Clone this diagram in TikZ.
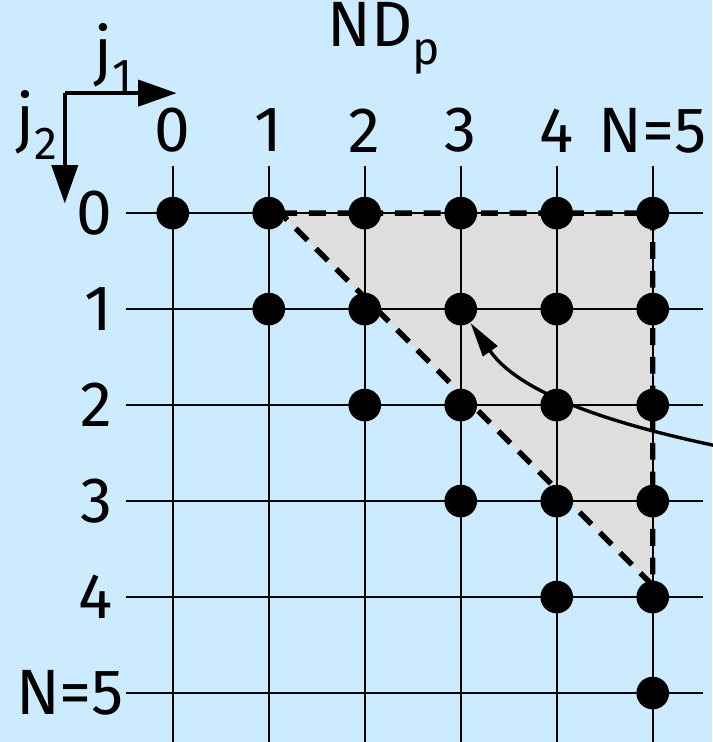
\documentclass[tikz,border=0pt]{standalone}
\usepackage{fontspec}
\setmainfont{Fira Sans}
\usetikzlibrary{arrows.meta}
\definecolor{bgblue}{HTML}{CCEBFF}
\definecolor{greyfill}{HTML}{DEDEDE}
\newcommand\lowsub[1]{\raisebox{-0.55ex}{\scalebox{0.72}{#1}}}
\tikzset{
  lbl/.style={font=\fontsize{19}{22}\selectfont, inner sep=0pt},
  gridline/.style={line width=0.6pt},
  bound/.style={line width=1.6pt, dash pattern=on 5pt off 3.5pt},
  dot/.style={circle, fill=black, minimum size=0.34cm, inner sep=0pt},
  axisarrow/.style={line width=1.2pt, -{Triangle[length=0.4cm,width=0.27cm]}},
  curvarrow/.style={line width=1pt, -{Triangle[length=0.36cm,width=0.18cm]}}
}
\begin{document}
\begin{tikzpicture}
\useasboundingbox[fill=bgblue] (-1.80,-5.51) rectangle (5.62,2.22);

\fill[greyfill] (1.12,0) -- (5,0) -- (5,-3.88) -- cycle;

\foreach \k in {0,...,5} {
  \draw[gridline] (-0.49,-\k) -- (5.52,-\k);
  \draw[gridline] (\k,0.49) -- (\k,-5.52);
}

\draw[bound] (1.12,0) -- (5,0) -- (5,-3.88) -- cycle;

\foreach \j in {0,...,5}
  \foreach \i in {\j,...,5}
    \node (d\i\j) [dot] at (\i,-\j) {};

\foreach \k/\t in {0/0,1/1,2/2,3/3,4/4,5/N=5}
  \node (c\k) [lbl] at (\k,0.86) {\t};
\foreach \k in {0,...,4}
  \node (r\k) [lbl, anchor=east] at (-0.62,-\k) {\k};
\node (r5) [lbl, anchor=east] at (-0.5,-5) {N=5};

\node (title) [lbl] at (2.2,1.82) {ND\lowsub{p}};

\coordinate (orig) at (-1.125,1.25);
\coordinate (j1end) at (0.04,1.25);
\coordinate (j2end) at (-1.125,0.1);
\draw[axisarrow] (orig) -- (j1end);
\draw[axisarrow] (orig) -- (j2end);
\node (j1) [lbl] at (-0.62,1.62) {j\lowsub{1}};
\node (j2) [lbl] at (-1.42,0.92) {j\lowsub{2}};

\coordinate (cstart) at (5.64,-2.42);
\draw[curvarrow] (cstart) to[out=168, in=-55, looseness=0.85] (d31);
\end{tikzpicture}
\end{document}
